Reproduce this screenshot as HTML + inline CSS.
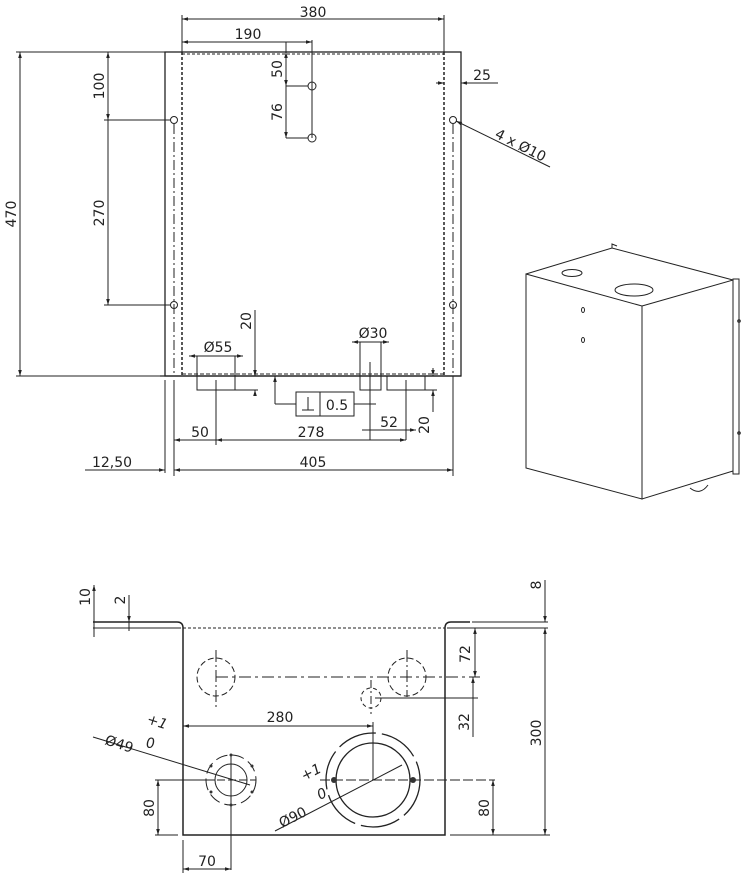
<!DOCTYPE html>
<html><head><style>
html,body{margin:0;padding:0;background:#fff;}
svg{display:block;}
text{font-family:"DejaVu Sans","Liberation Sans",sans-serif;font-size:14px;fill:#222;}
</style></head><body>
<svg width="753" height="881" viewBox="0 0 753 881" xmlns="http://www.w3.org/2000/svg">
<defs>
<marker id="a" viewBox="0 0 10 10" refX="10" refY="5" markerWidth="8" markerHeight="6" orient="auto-start-reverse"><path d="M0,2 L10,5 L0,8z" fill="#222"/></marker>
</defs>
<g stroke="#222" fill="none" stroke-width="1">
<!-- top view -->
<rect x="165" y="52" width="296" height="324" stroke-width="1.3"/>
<line x1="182" y1="52" x2="182" y2="376" stroke-dasharray="3,2" stroke-width="1.5"/>
<line x1="444" y1="52" x2="444" y2="376" stroke-dasharray="3,2" stroke-width="1.5"/>
<line x1="182" y1="54" x2="444" y2="54" stroke-dasharray="3,2"/>
<line x1="182" y1="374" x2="444" y2="374" stroke-dasharray="4,2"/>
<line x1="174" y1="124" x2="174" y2="376" stroke-dasharray="10,3,2,3"/>
<line x1="453" y1="124" x2="453" y2="376" stroke-dasharray="10,3,2,3"/>
<circle cx="174" cy="120" r="3.5"/><circle cx="174" cy="305" r="3.5"/>
<circle cx="453" cy="120" r="3.5"/><circle cx="453" cy="305" r="3.5"/>
<circle cx="312" cy="86" r="4"/><circle cx="312" cy="138" r="4"/>
<!-- dims top -->
<line x1="182" y1="15" x2="182" y2="52"/><line x1="444" y1="15" x2="444" y2="52"/>
<line x1="182" y1="19" x2="444" y2="19" marker-start="url(#a)" marker-end="url(#a)"/>
<line x1="182" y1="42" x2="312" y2="42" marker-start="url(#a)" marker-end="url(#a)"/>
<line x1="312" y1="40" x2="312" y2="138"/>
<line x1="286" y1="42" x2="286" y2="138"/>
<line x1="286" y1="52" x2="286" y2="86" marker-start="url(#a)" marker-end="url(#a)"/>
<line x1="286" y1="86" x2="286" y2="138" marker-end="url(#a)"/>
<line x1="286" y1="86" x2="308" y2="86"/><line x1="286" y1="138" x2="308" y2="138"/>
<!-- left dims -->
<line x1="16" y1="52" x2="165" y2="52"/><line x1="16" y1="376" x2="160" y2="376"/>
<line x1="20" y1="52" x2="20" y2="376" marker-start="url(#a)" marker-end="url(#a)"/>
<line x1="108" y1="52" x2="108" y2="120" marker-start="url(#a)" marker-end="url(#a)"/>
<line x1="108" y1="120" x2="108" y2="305" marker-end="url(#a)"/>
<line x1="104" y1="120" x2="170" y2="120"/><line x1="104" y1="305" x2="170" y2="305"/>
<!-- right -->
<line x1="436" y1="83" x2="444" y2="83" marker-end="url(#a)"/>
<line x1="461" y1="83" x2="498" y2="83"/>
<line x1="461" y1="83" x2="470" y2="83" marker-start="url(#a)"/>
<line x1="456" y1="121" x2="550" y2="167" marker-start="url(#a)"/>
<!-- bottom tabs -->
<line x1="160" y1="376" x2="461" y2="376" stroke-width="1.3"/>
<rect x="197" y="376" width="38" height="14"/>
<rect x="360" y="376" width="21" height="14"/>
<rect x="387" y="376" width="38" height="14"/>
<line x1="189" y1="356" x2="243" y2="356" marker-start="url(#a)" marker-end="url(#a)"/>
<line x1="197" y1="356" x2="197" y2="376"/><line x1="235" y1="356" x2="235" y2="376"/>
<line x1="255" y1="310" x2="255" y2="376" marker-end="url(#a)"/>
<line x1="255" y1="395" x2="255" y2="390" marker-end="url(#a)"/>
<line x1="235" y1="390" x2="258" y2="390"/>
<line x1="352" y1="342" x2="389" y2="342" marker-start="url(#a)" marker-end="url(#a)"/>
<line x1="360" y1="342" x2="360" y2="376"/><line x1="381" y1="342" x2="381" y2="376"/>
<line x1="370" y1="362" x2="370" y2="440"/>
<line x1="216" y1="380" x2="216" y2="445"/>
<line x1="406" y1="380" x2="406" y2="440"/>
<line x1="275" y1="376" x2="275" y2="404" marker-start="url(#a)"/>
<line x1="275" y1="404" x2="296" y2="404"/>
<rect x="296" y="392" width="58" height="24"/>
<line x1="320" y1="392" x2="320" y2="416"/>
<line x1="354" y1="404" x2="376" y2="404"/>
<line x1="302" y1="410" x2="314" y2="410"/><line x1="308" y1="397" x2="308" y2="410"/>
<line x1="362" y1="430" x2="416" y2="430" marker-end="url(#a)"/>
<line x1="433" y1="368" x2="433" y2="376" marker-end="url(#a)"/>
<line x1="433" y1="400" x2="433" y2="390" marker-end="url(#a)"/>
<line x1="425" y1="390" x2="437" y2="390"/>
<line x1="433" y1="390" x2="433" y2="412"/>
<line x1="174" y1="440" x2="406" y2="440" marker-start="url(#a)" marker-end="url(#a)"/>
<line x1="216" y1="440" x2="226" y2="440" marker-start="url(#a)"/>
<line x1="165" y1="380" x2="165" y2="473"/>
<line x1="174" y1="380" x2="174" y2="476"/><line x1="453" y1="376" x2="453" y2="476"/>
<line x1="174" y1="470" x2="453" y2="470" marker-start="url(#a)" marker-end="url(#a)"/>
<line x1="85" y1="470" x2="165" y2="470" marker-end="url(#a)"/>
<!-- iso view -->
<g stroke-width="1">
<polygon points="526,274 642,306 642,499 526,468"/>
<polygon points="642,306 733,280 733,471 642,499"/>
<polyline points="526,274 612,248 733,280"/>
<rect x="733" y="279" width="6" height="195"/>
<ellipse cx="634" cy="290" rx="19" ry="6"/>
<ellipse cx="572" cy="273" rx="10" ry="3.5"/>
<ellipse cx="583" cy="310" rx="1.5" ry="2.5"/><ellipse cx="583" cy="340" rx="1.5" ry="2.5"/>
<circle cx="739" cy="321" r="1.3"/><circle cx="739" cy="433" r="1.3"/>
<path d="M690,488 q10,8 18,-3"/>
<path d="M612,248 l0,-4 l5,2"/>
</g>
<!-- bottom view -->
<path d="M93,622 L177,622 Q183,622 183,628 L183,835 L445,835 L445,628 Q445,622 451,622 L470,622" stroke-width="1.5"/>
<line x1="93" y1="628" x2="181" y2="628"/><line x1="447" y1="628" x2="548" y2="628"/>
<line x1="472" y1="622" x2="548" y2="622"/>
<line x1="183" y1="628" x2="445" y2="628" stroke-dasharray="3,2"/>
<circle cx="216" cy="677" r="19" stroke-dasharray="6,3"/>
<circle cx="407" cy="677" r="19" stroke-dasharray="6,3"/>
<circle cx="371" cy="698" r="10" stroke-dasharray="4,3"/>
<line x1="216" y1="650" x2="216" y2="710" stroke-dasharray="12,3,2,3"/>
<line x1="407" y1="650" x2="407" y2="697" stroke-dasharray="12,3,2,3"/>
<line x1="371" y1="680" x2="371" y2="714" stroke-dasharray="8,3,2,3"/>
<line x1="216" y1="677" x2="480" y2="677" stroke-dasharray="12,4,3,4"/>
<line x1="375" y1="698" x2="478" y2="698"/>
<line x1="183" y1="726" x2="373" y2="726" marker-start="url(#a)" marker-end="url(#a)"/>
<line x1="373" y1="722" x2="373" y2="780"/>
<circle cx="231" cy="780" r="16"/>
<circle cx="231" cy="780" r="25" stroke-dasharray="12,5"/>
<line x1="231" y1="754" x2="231" y2="870"/>
<line x1="206" y1="780" x2="256" y2="780" stroke-dasharray="8,3"/>
<line x1="93" y1="737" x2="250" y2="785"/>
<circle cx="373" cy="780" r="37" stroke-width="1.3"/>
<circle cx="373" cy="780" r="47" stroke-dasharray="40,6" stroke-width="1.3"/>
<line x1="320" y1="780" x2="495" y2="780" stroke-dasharray="10,3"/>
<line x1="275" y1="831" x2="402" y2="765"/>
<line x1="155" y1="780" x2="215" y2="780"/>
<line x1="155" y1="835" x2="178" y2="835"/>
<line x1="158" y1="780" x2="158" y2="835" marker-start="url(#a)" marker-end="url(#a)"/>
<line x1="183" y1="840" x2="183" y2="873"/>
<line x1="183" y1="869" x2="231" y2="869" marker-start="url(#a)" marker-end="url(#a)"/>
<line x1="450" y1="835" x2="550" y2="835"/>
<line x1="493" y1="780" x2="493" y2="835" marker-start="url(#a)" marker-end="url(#a)"/>
<line x1="545" y1="628" x2="545" y2="835" marker-start="url(#a)" marker-end="url(#a)"/>
<line x1="545" y1="580" x2="545" y2="622" marker-end="url(#a)"/>
<line x1="475" y1="628" x2="475" y2="677" marker-start="url(#a)" marker-end="url(#a)"/>
<line x1="473" y1="677" x2="473" y2="737" marker-start="url(#a)"/>
<line x1="94" y1="585" x2="94" y2="637" marker-start="url(#a)"/>
<line x1="129" y1="595" x2="129" y2="631"/>
<line x1="129" y1="612" x2="129" y2="622" marker-end="url(#a)"/>
</g>
<g fill="#333">
<circle cx="334" cy="780" r="3"/><circle cx="413" cy="780" r="3"/>
<circle cx="231" cy="755" r="1.5"/><circle cx="231" cy="805" r="1.5"/>
<circle cx="211" cy="766" r="1.5"/><circle cx="252" cy="766" r="1.5"/>
<circle cx="211" cy="792" r="1.5"/><circle cx="252" cy="792" r="1.5"/>
</g>
<text x="313" y="17" text-anchor="middle">380</text>
<text x="248" y="39" text-anchor="middle">190</text>
<text x="482" y="80" text-anchor="middle">25</text>
<text transform="translate(282,69) rotate(-90)" text-anchor="middle">50</text>
<text transform="translate(282,112) rotate(-90)" text-anchor="middle">76</text>
<text transform="translate(104,86) rotate(-90)" text-anchor="middle">100</text>
<text transform="translate(104,213) rotate(-90)" text-anchor="middle">270</text>
<text transform="translate(16,214) rotate(-90)" text-anchor="middle">470</text>
<text transform="translate(251,321) rotate(-90)" text-anchor="middle">20</text>
<text transform="translate(429,425) rotate(-90)" text-anchor="middle">20</text>
<text transform="translate(494,137) rotate(27)">4 x Ø10</text>
<text x="218" y="352" text-anchor="middle">Ø55</text>
<text x="373" y="338" text-anchor="middle">Ø30</text>
<text x="337" y="410" text-anchor="middle">0.5</text>
<text x="389" y="427" text-anchor="middle">52</text>
<text x="200" y="437" text-anchor="middle">50</text>
<text x="311" y="437" text-anchor="middle">278</text>
<text x="313" y="467" text-anchor="middle">405</text>
<text x="112" y="467" text-anchor="middle">12,50</text>
<text transform="translate(90,597) rotate(-90)" text-anchor="middle">10</text>
<text transform="translate(125,600) rotate(-90)" text-anchor="middle">2</text>
<text transform="translate(541,585) rotate(-90)" text-anchor="middle">8</text>
<text transform="translate(470,654) rotate(-90)" text-anchor="middle">72</text>
<text transform="translate(469,722) rotate(-90)" text-anchor="middle">32</text>
<text transform="translate(541,733) rotate(-90)" text-anchor="middle">300</text>
<text transform="translate(489,808) rotate(-90)" text-anchor="middle">80</text>
<text transform="translate(154,808) rotate(-90)" text-anchor="middle">80</text>
<text x="280" y="722" text-anchor="middle">280</text>
<text x="207" y="866" text-anchor="middle">70</text>
<text transform="translate(104,744) rotate(18)">Ø49</text>
<text transform="translate(146,723) rotate(18)" style="font-style:italic">+1</text>
<text transform="translate(146,748)" style="font-style:italic">0</text>
<text transform="translate(282,828) rotate(-27)">Ø90</text>
<text transform="translate(304,781) rotate(-27)" style="font-style:italic">+1</text>
<text transform="translate(320,800) rotate(-27)" style="font-style:italic">0</text>
</svg>
</body></html>
